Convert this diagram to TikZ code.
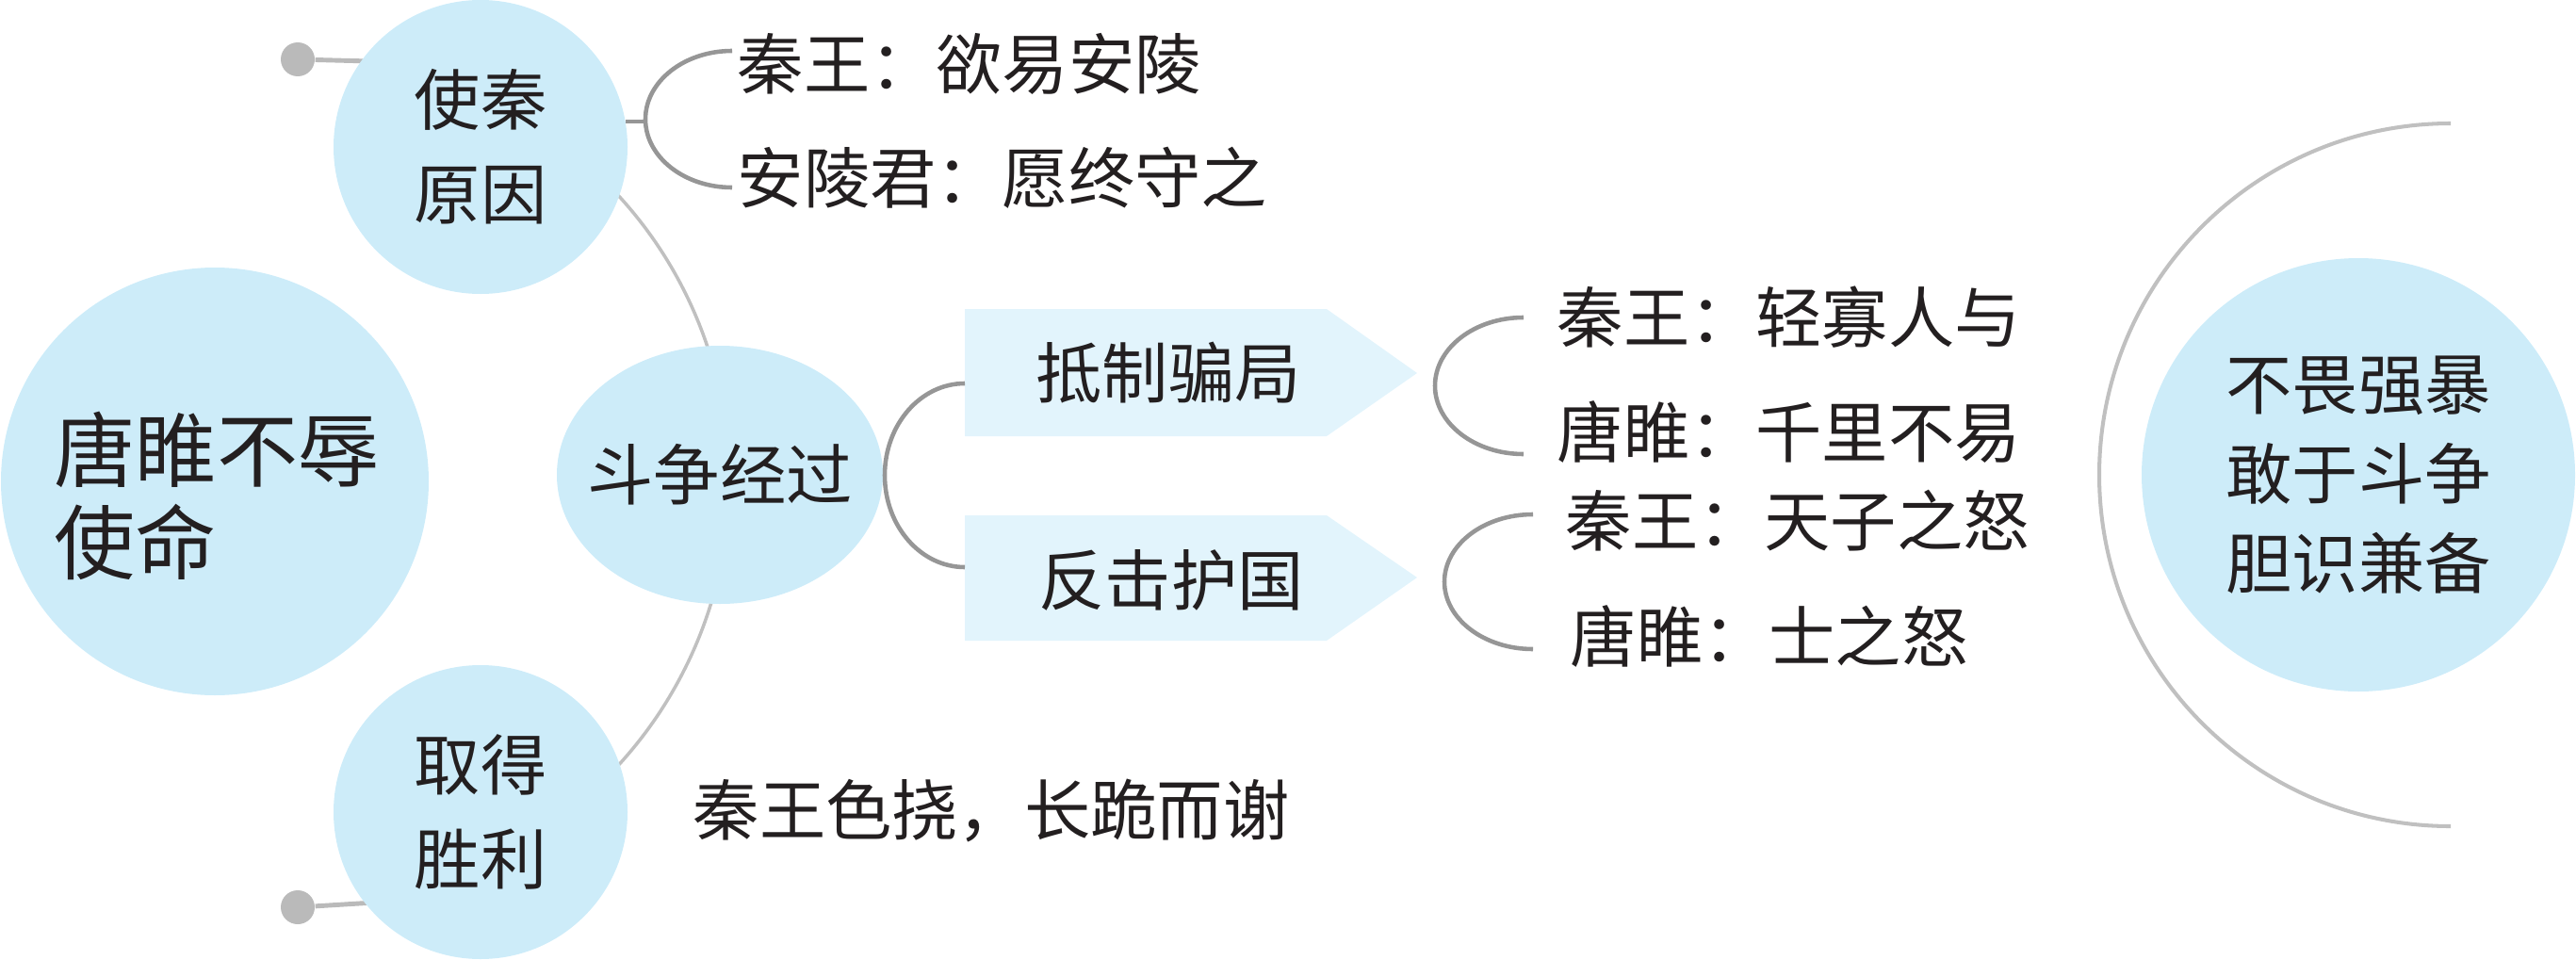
\documentclass[tikz,border=0pt]{standalone}
\usepackage{fontspec}
\setmainfont{Noto Sans CJK SC}
\usepackage{xcolor}
\usetikzlibrary{shapes.geometric,positioning}
\definecolor{bubfill}{RGB}{205,236,249}
\definecolor{boxfill}{RGB}{226,244,252}
\definecolor{arcgray}{RGB}{192,192,192}
\definecolor{brkgray}{RGB}{150,150,150}
\definecolor{dotgray}{RGB}{186,186,186}
\definecolor{ink}{RGB}{35,31,32}

\begin{document}
\begin{tikzpicture}
\tikzstyle{bub}=[circle, fill=bubfill, inner sep=0pt, text=ink, align=center, font=\fontsize{20pt}{28.5pt}\selectfont]
\tikzstyle{txt}=[anchor=west, inner sep=0pt, text=ink, font=\fontsize{20pt}{24pt}\selectfont]
\tikzstyle{dotn}=[circle, fill=dotgray, inner sep=0pt, minimum size=0.36cm]
\tikzstyle{dotl}=[draw=dotgray, line width=1.4pt]
\tikzstyle{arcl}=[draw=arcgray, line width=1pt]
\tikzstyle{brk}=[draw=brkgray, line width=1.3pt]
\tikzstyle{tipbox}=[fill=boxfill]
\useasboundingbox (0,0) rectangle (27.34,10.18);

% gray lines behind the circles
\coordinate (hub) at (3.27,5.08);
\draw[arcl] (hub) ++(60:4.47) arc[start angle=60, end angle=-60, radius=4.47];
\node[dotn] (dA) at (3.16,9.55) {};
\node[dotn] (dB) at (3.16,0.55) {};
\coordinate (dAe) at (4.30,9.52);
\coordinate (dBe) at (4.30,0.62);
\draw[dotl] (dA) -- (dAe);
\draw[dotl] (dB) -- (dBe);

% circles
\node[bub, minimum size=4.54cm] (tsm) at (2.28,5.07) {};
\node[inner sep=0pt, text=ink, align=left, font=\fontsize{24.5pt}{27.9pt}\selectfont] (tsmtxt) at (2.30,4.92) {唐睢不辱\\使命};
\node[bub, minimum size=3.12cm] (ysy) at (5.10,8.62) {使秦\\原因};
\node[bub, minimum size=3.12cm] (qsl) at (5.10,1.56) {取得\\胜利};
\node[bub, ellipse, minimum width=3.46cm, minimum height=2.74cm] (dzjg) at (7.64,5.14) {\makebox[0pt]{斗争经过}};

% why go to qin
\coordinate (b1) at (7.77,9.64);
\draw[brk] (ysy.10) -- ++(0.22,0);
\draw[brk] (b1) arc[start angle=90, end angle=270, x radius=0.92, y radius=0.725];
\node[txt] (q1) at (7.82,9.50) {秦王：欲易安陵};
\node[txt] (q2) at (7.82,8.29) {安陵君：愿终守之};

% the two steps
\fill[tipbox] (10.24,6.90) -- (14.08,6.90) -- (15.04,6.22) -- (14.08,5.55) -- (10.24,5.55) -- cycle;
\fill[tipbox] (10.24,4.71) -- (14.08,4.71) -- (15.04,4.05) -- (14.08,3.38) -- (10.24,3.38) -- cycle;
\node[txt, anchor=center] (dzpj) at (12.40,6.22) {抵制骗局};
\node[txt, anchor=center] (fjhg) at (12.43,4.02) {反击护国};
\coordinate (b2) at (10.24,6.11);
\draw[brk] (b2) arc[start angle=90, end angle=270, x radius=0.85, y radius=0.975];

\coordinate (b3) at (16.17,6.81);
\coordinate (b4) at (16.27,4.72);
\draw[brk] (b3) arc[start angle=90, end angle=270, x radius=0.94, y radius=0.725];
\draw[brk] (b4) arc[start angle=90, end angle=270, x radius=0.94, y radius=0.715];
\node[txt] (q3) at (16.52,6.81) {秦王：轻寡人与};
\node[txt] (q4) at (16.52,5.59) {唐睢：千里不易};
\node[txt] (q5) at (16.61,4.65) {秦王：天子之怒};
\node[txt] (q6) at (16.66,3.43) {唐睢：士之怒};

% result
\node[txt] (q7) at (7.35,1.58) {秦王色挠，长跪而谢};

% right side
\coordinate (rc) at (26.01,5.14);
\draw[arcl, line width=1.15pt] (rc) ++(90:3.73) arc[start angle=90, end angle=270, radius=3.73];
\node[bub, minimum size=4.60cm, font=\fontsize{20pt}{27pt}\selectfont] (bwqb) at (25.03,5.14) {不畏强暴\\敢于斗争\\胆识兼备};
\end{tikzpicture}
\end{document}
